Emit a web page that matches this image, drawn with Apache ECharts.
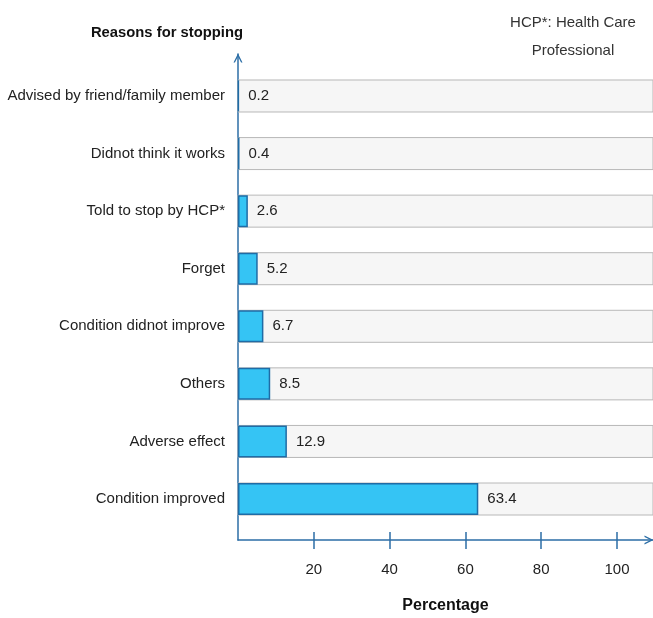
<!DOCTYPE html>
<html>
<head>
<meta charset="utf-8">
<script src="https://cdn.jsdelivr.net/npm/echarts@6/dist/echarts.min.js"></script>
<style>
html,body{margin:0;padding:0;background:#fff;}
#chart{width:653px;height:618px;}
</style>
</head>
<body>
<div id="chart"></div>
<script>
var categories = [
  'Advised by friend/family member',
  'Didnot think it works',
  'Told to stop by HCP*',
  'Forget',
  'Condition didnot improve',
  'Others',
  'Adverse effect',
  'Condition improved'
];
var values = [0.2, 0.4, 2.6, 5.2, 6.7, 8.5, 12.9, 63.4];
var xTicks = [20, 40, 60, 80, 100];
var yTitle = 'Reasons for stopping';
var xTitle = 'Percentage';
var note = 'HCP*: Health Care\nProfessional';

var FONT = '"Liberation Sans", Arial, sans-serif';
var AXIS = '#2c6ea6';
var CHEVRON = 'path://M0,10 L5,0 L10,10 L8.4,10 L5,3.2 L1.6,10 Z';
var chart = echarts.init(document.getElementById('chart'));
chart.setOption({
  animation: false,
  textStyle: {fontFamily: FONT},
  title: {
    text: note,
    left: 568, top: 4, textAlign: 'center',
    textStyle: {fontFamily: FONT, fontSize: 15, fontWeight: 'normal', color: '#333', lineHeight: 28}
  },
  grid: [
    {left: 238, right: 0, top: 67.2, bottom: 90.2, containLabel: false, outerBoundsMode: 'none'},
    {left: 238, right: 0, top: 54, bottom: 78, containLabel: false, outerBoundsMode: 'none'}
  ],
  xAxis: [
    {gridIndex: 0, type: 'value', min: 0, max: 109.5, show: false},
    {
      gridIndex: 1, type: 'value', min: 0, max: 109.5, position: 'bottom',
      name: xTitle, nameLocation: 'middle', nameGap: 58,
      nameTextStyle: {fontFamily: FONT, fontSize: 16, fontWeight: 'bold', color: '#111'},
      axisLine: {show: true, lineStyle: {color: AXIS, width: 1.5}, symbol: ['none', CHEVRON], symbolSize: [13, 9], symbolOffset: [0, -4]},
      axisTick: {show: true, length: 9, customValues: xTicks, lineStyle: {color: AXIS, width: 1.5}},
      axisLabel: {customValues: xTicks, margin: 22, fontFamily: FONT, fontSize: 15, color: '#222'},
      splitLine: {show: false}
    },
    {
      gridIndex: 1, type: 'value', min: 0, max: 109.5, position: 'bottom', offset: 0,
      axisLine: {show: false},
      axisTick: {show: true, inside: true, length: 8, customValues: xTicks, lineStyle: {color: AXIS, width: 1.5}},
      axisLabel: {show: false}, splitLine: {show: false}
    }
  ],
  yAxis: [
    {
      gridIndex: 0, type: 'category', data: categories, inverse: true,
      axisLine: {show: false}, axisTick: {show: false},
      axisLabel: {margin: 13, fontFamily: FONT, fontSize: 15, color: '#222'}
    },
    {
      gridIndex: 1, type: 'value', min: 0, max: 1,
      name: yTitle, nameLocation: 'end', nameGap: 14,
      nameTextStyle: {fontFamily: FONT, fontSize: 14.8, fontWeight: 'bold', color: '#111', align: 'right', padding: [0, -5, 0, 0]},
      axisLine: {show: true, lineStyle: {color: AXIS, width: 1.5}, symbol: ['none', CHEVRON], symbolSize: [13, 9], symbolOffset: [0, -4]},
      axisTick: {show: false}, axisLabel: {show: false}, splitLine: {show: false}
    }
  ],
  series: [{
    type: 'bar',
    xAxisIndex: 0, yAxisIndex: 0,
    data: values,
    barWidth: 32,
    showBackground: true,
    backgroundStyle: {color: '#f6f6f6', borderColor: '#b8b8b8', borderWidth: 1},
    itemStyle: {color: '#35c4f4', borderColor: '#1f6ca6', borderWidth: 1.5},
    label: {show: true, position: 'right', distance: 9, fontFamily: FONT, fontSize: 15, color: '#222'}
  }]
});
</script>
</body>
</html>
